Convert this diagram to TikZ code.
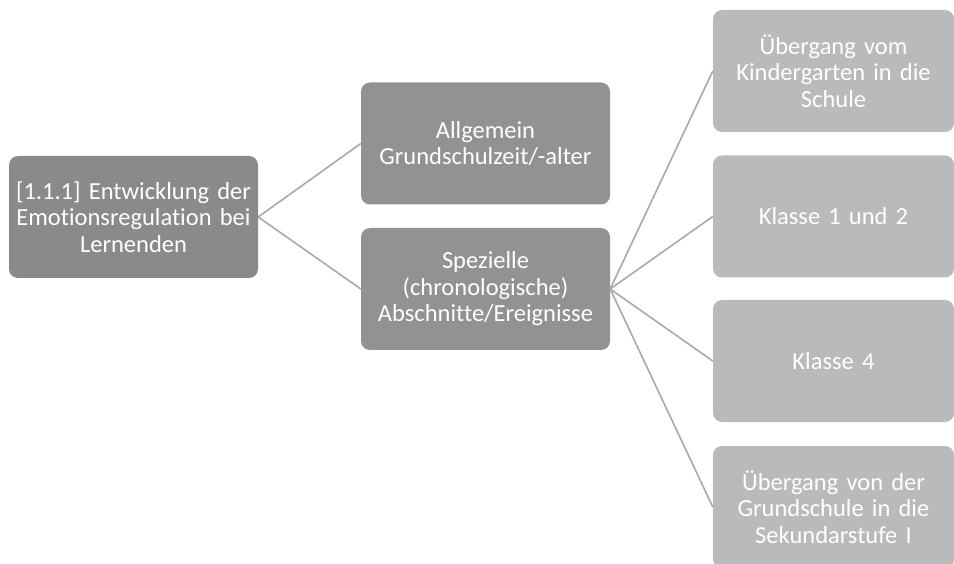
\documentclass[tikz,border=0pt]{standalone}
\usepackage{fontspec}
\setmainfont{Carlito}[Ligatures=NoCommon]
\usepackage{tikz}

\definecolor{rootgray}{RGB}{138,138,140}
\definecolor{midgray}{RGB}{146,146,148}
\definecolor{leafgray}{RGB}{185,186,188}
\definecolor{linkgray}{RGB}{168,168,170}

\begin{document}
\begin{tikzpicture}[x=1pt,y=-1pt,
    box/.style={rounded corners=9pt,inner sep=0pt,minimum height=122pt,
      align=center,text=white,font=\fontsize{24.5}{26.5}\selectfont},
    link/.style={linkgray,line width=1.6pt}]
    \useasboundingbox (0,0) rectangle (954,564);
    \node[box,fill=rootgray,minimum width=249pt,text width=244pt] (root) at (133.5,217)
      {[1.1.1] Entwicklung der\\Emotionsregulation bei\\Lernenden};
    \node[box,fill=midgray,minimum width=249pt,text width=244pt] (general) at (485.5,143.5)
      {Allgemein\\Grundschulzeit/-alter\\[4pt]};
    \node[box,fill=midgray,minimum width=249pt,text width=244pt] (special) at (485.5,289)
      {Spezielle\\(chronologische)\\Abschnitte/Ereignisse};
    \node[box,fill=leafgray,minimum width=241pt,text width=236pt] (kiga) at (833.5,71)
      {Übergang vom\\Kindergarten in die\\Schule};
    \node[box,fill=leafgray,minimum width=241pt,text width=236pt] (first) at (833.5,216.5)
      {Klasse 1 und 2};
    \node[box,fill=leafgray,minimum width=241pt,text width=236pt] (fourth) at (833.5,361)
      {Klasse 4};
    \node[box,fill=leafgray,minimum width=241pt,text width=236pt] (secondary) at (833.5,507)
      {Übergang von der\\Grundschule in die\\Sekundarstufe I};
    \draw[link] (root.east) -- (general.west);
    \draw[link] (root.east) -- (special.west);
    \draw[link] (special.east) -- (kiga.west);
    \draw[link] (special.east) -- (first.west);
    \draw[link] (special.east) -- (fourth.west);
    \draw[link] (special.east) -- (secondary.west);
  \end{tikzpicture}
\end{document}
